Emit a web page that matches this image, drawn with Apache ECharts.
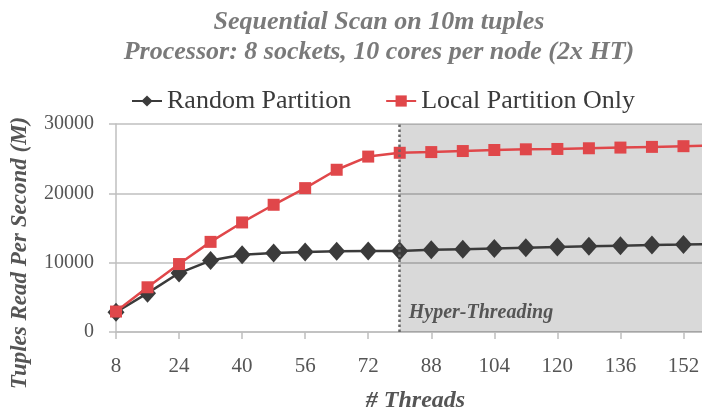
<!DOCTYPE html>
<html>
<head>
<meta charset="utf-8">
<script src="https://cdn.jsdelivr.net/npm/echarts@6/dist/echarts.min.js"></script>
<style>
  html, body { margin: 0; padding: 0; background: #fff; }
  #chart { width: 702px; height: 409px; }
</style>
</head>
<body>
<div id="chart"></div>
<script>
// thread counts, 8..160
var threads = [8, 16, 24, 32, 40, 48, 56, 64, 72, 80, 88, 96, 104, 112, 120, 128, 136, 144, 152, 160];
// tuples read per second (M)
var randomPartition = [2850, 5600, 8500, 10300, 11150, 11400, 11550, 11650, 11700, 11700,
  11850, 11950, 12050, 12150, 12250, 12350, 12450, 12550, 12620, 12700];
var localPartition = [2950, 6450, 9800, 13000, 15800, 18350, 20750, 23400, 25300, 25850,
  25950, 26100, 26250, 26350, 26400, 26500, 26600, 26700, 26800, 26900];
var htStart = 80;

function pairs(vals) {
  return threads.map(function (t, i) { return [t, vals[i]]; });
}

var serif = "Liberation Serif";
var chart = echarts.init(document.getElementById("chart"));
chart.setOption({
  animation: false,
  title: {
    text: "Sequential Scan on 10m tuples\nProcessor: 8 sockets, 10 cores per node (2x HT)",
    left: 374,
    textAlign: "center",
    top: 2,
    textStyle: {
      fontFamily: serif,
      fontSize: 26,
      fontStyle: "italic",
      fontWeight: "bold",
      color: "#7a7a7a",
      lineHeight: 30
    }
  },
  legend: {
    top: 83,
    left: 126,
    itemWidth: 30,
    itemHeight: 14,
    itemGap: 34,
    textStyle: { fontFamily: serif, fontSize: 26, color: "#3a3a3a" },
    data: ["Random Partition", "Local Partition Only"]
  },
  grid: { left: 116, right: -13, top: 124, bottom: 77, outerBoundsMode: "none" },
  xAxis: {
    type: "value",
    min: 8,
    max: 160,
    interval: 16,
    name: "# Threads",
    nameLocation: "middle",
    nameGap: 57,
    nameTextStyle: {
      fontFamily: serif,
      fontSize: 24,
      fontStyle: "italic",
      fontWeight: "bold",
      color: "#555"
    },
    axisLine: { lineStyle: { color: "#bfbfbf", width: 1.5 } },
    axisTick: { length: 7, lineStyle: { color: "#bfbfbf", width: 1.5 } },
    axisLabel: {
      margin: 24,
      showMaxLabel: false,
      fontFamily: serif,
      fontSize: 21,
      color: "#555"
    },
    splitLine: { show: false }
  },
  yAxis: {
    type: "value",
    min: 0,
    max: 30000,
    interval: 10000,
    name: "Tuples Read Per Second (M)",
    nameLocation: "middle",
    nameGap: 84,
    nameTextStyle: {
      fontFamily: serif,
      fontSize: 23,
      fontStyle: "italic",
      fontWeight: "bold",
      color: "#555",
      padding: [0, 50, 0, 0]
    },
    axisLine: { show: true, lineStyle: { color: "#bfbfbf", width: 1.5 } },
    axisTick: { show: true, length: 7, lineStyle: { color: "#bfbfbf", width: 1.5 } },
    axisLabel: {
      margin: 22,
      formatter: function (v) { return String(v); },
      fontFamily: serif,
      fontSize: 20,
      color: "#555"
    },
    splitLine: { lineStyle: { color: "#bfbfbf", width: 1.5 } }
  },
  series: [
    {
      name: "Random Partition",
      type: "line",
      data: pairs(randomPartition),
      symbol: "diamond",
      symbolSize: [17, 19],
      color: "#3b3b3b",
      lineStyle: { width: 2.5, color: "#3b3b3b" },
      itemStyle: { color: "#3b3b3b" },
      z: 3,
      markArea: {
        silent: true,
        itemStyle: { color: "rgba(0,0,0,0.15)" },
        label: {
          show: true,
          position: "insideBottomLeft",
          distance: 9,
          formatter: "Hyper-Threading",
          fontFamily: serif,
          fontSize: 20,
          fontStyle: "italic",
          fontWeight: "bold",
          color: "#555"
        },
        data: [[
          { name: "Hyper-Threading", xAxis: htStart, yAxis: 0 },
          { xAxis: 160, yAxis: 30000 }
        ]]
      },
      markLine: {
        silent: true,
        symbol: "none",
        label: { show: false },
        lineStyle: { color: "#666", type: "dotted", width: 2.5 },
        data: [[
          { xAxis: htStart, yAxis: 0 },
          { xAxis: htStart, yAxis: 30000 }
        ]]
      }
    },
    {
      name: "Local Partition Only",
      type: "line",
      data: pairs(localPartition),
      symbol: "rect",
      symbolSize: 12,
      color: "#e0474a",
      lineStyle: { width: 2.5, color: "#e0474a" },
      itemStyle: { color: "#e0474a" },
      z: 4
    }
  ]
});
</script>
</body>
</html>
